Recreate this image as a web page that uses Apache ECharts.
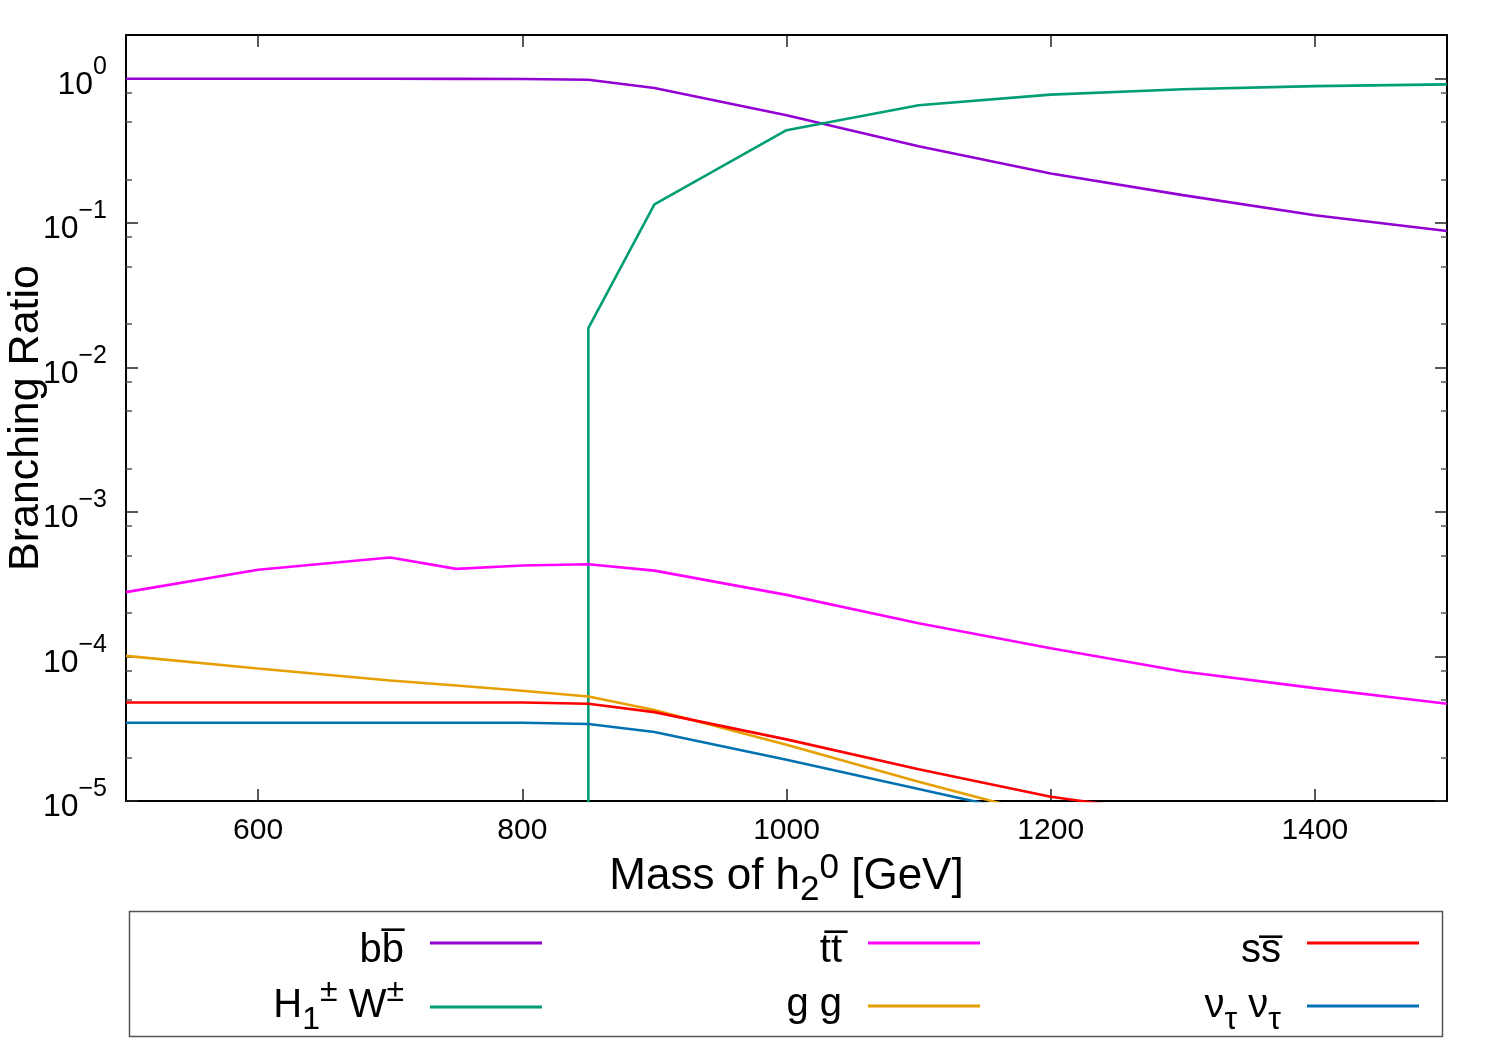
<!DOCTYPE html>
<html><head><meta charset="utf-8">
<script src="https://cdn.jsdelivr.net/npm/echarts@6/dist/echarts.min.js"></script>
<style>html,body{margin:0;padding:0;background:#fff}#c{width:1500px;height:1050px}</style>
</head><body><div id="c"></div>
<script>
// ---- data ----
const masses   = [500, 600, 700, 750, 800, 850, 900, 1000, 1100, 1200, 1300, 1400, 1500];
const brBB     = [0.995, 0.995, 0.995, 0.994, 0.993, 0.98, 0.86, 0.557, 0.34, 0.22, 0.156, 0.113, 0.088];
const brTT     = [2.79e-4, 3.98e-4, 4.84e-4, 4.04e-4, 4.26e-4, 4.35e-4, 3.93e-4, 2.67e-4, 1.70e-4, 1.14e-4, 7.87e-5, 6.04e-5, 4.71e-5];
const brGG     = [1.01e-4, 8.27e-5, 6.83e-5, 6.3e-5, 5.8e-5, 5.29e-5, 4.27e-5, 2.45e-5, 1.36e-5, 7.8e-6, null, null, null];
const brSS     = [4.81e-5, 4.81e-5, 4.81e-5, 4.81e-5, 4.81e-5, 4.71e-5, 4.12e-5, 2.67e-5, 1.66e-5, 1.07e-5, 8.0e-6, null, null];
const brNuNu   = [3.48e-5, 3.48e-5, 3.48e-5, 3.48e-5, 3.48e-5, 3.41e-5, 3.0e-5, 1.93e-5, 1.21e-5, 7.6e-6, null, null, null];
// H1± W± channel opens at 850 GeV (vertical rise from ~0)
const hwMasses = [850, 850, 900, 1000, 1100, 1200, 1300, 1400, 1500];
const brHW     = [1e-9, 0.0187, 0.1345, 0.439, 0.653, 0.773, 0.843, 0.885, 0.91];

const xTickValues  = [600, 800, 1000, 1200, 1400];
const yTickValues  = [1e-5, 1e-4, 1e-3, 1e-2, 1e-1, 1];
const yMinorValues = [2e-5, 5e-5, 8e-5, 2e-4, 5e-4, 8e-4, 2e-3, 5e-3, 8e-3, 2e-2, 5e-2, 8e-2, 0.2, 0.5, 0.8];

const seriesNames  = ['bb', 'hw', 'tt', 'gg', 'ss', 'nn'];
const seriesColors = ['#9400d3', '#009e73', '#ff00ff', '#e69f00', '#ff0000', '#0072b2'];
const legendText = {
  bb: '{b|b\u0062\u0305}',
  hw: '{b|H}{sub|1}{sup|\u00b1}{b| W}{sup|\u00b1}',
  tt: '{b|t\u0074\u0305}',
  gg: '{b|g g}',
  ss: '{b|s\u0073\u0305}',
  nn: '{b|\u03bd}{sub|\u03c4}{b| \u03bd}{sub|\u03c4}'
};

const FONT = "'Liberation Sans', Arial, Helvetica, sans-serif";
const pairs = (xs, ys) => xs.map((x, i) => [x, ys[i]]).filter(p => p[1] != null);
const seriesData = {
  bb: pairs(masses, brBB), hw: pairs(hwMasses, brHW), tt: pairs(masses, brTT),
  gg: pairs(masses, brGG), ss: pairs(masses, brSS), nn: pairs(masses, brNuNu)
};

function legendRich(shift) {
  return {
    b:   {fontSize: 40, lineHeight: 40, fontFamily: FONT, color: '#000', verticalAlign: 'top', padding: [10 + shift, 0, 10 - shift, 0]},
    sup: {fontSize: 32, lineHeight: 32, fontFamily: FONT, color: '#000', verticalAlign: 'top', padding: [0 + shift, 0, 0, 0]},
    sub: {fontSize: 32, lineHeight: 32, fontFamily: FONT, color: '#000', verticalAlign: 'top', padding: [28 + shift, 0, 0, 0]}
  };
}
// legend placement: [name, right, center of sample line, text shift]
const legendPos = [
  ['bb', 958, 943, 8], ['tt', 520, 943, 8], ['ss', 81, 943, 8],
  ['hw', 958, 1006, -1], ['gg', 520, 1006, -1], ['nn', 81, 1006, 0]
];
const legends = legendPos.map(([n, r, cy, sh]) => ({
  data: [n], right: r, top: cy - 30, padding: 0, align: 'right',
  icon: 'rect', itemWidth: 112, itemHeight: 3,
  formatter: () => legendText[n],
  textStyle: {fontSize: 40, fontFamily: FONT, color: '#000', padding: [0, 21, 20, 0], rich: legendRich(sh)}
}));

const supExp = v => {
  const e = Math.round(Math.log10(v));
  return '{b|10}{s|' + (e < 0 ? '\u2212' + (-e) : e) + '}';
};

const AXC = '#000';
const baseY = {
  type: 'log', logBase: 10, min: 1e-5, max: 2, gridIndex: 0,
  splitLine: {show: false}, minorTick: {show: false}
};

const chart = echarts.init(document.getElementById('c'));
chart.setOption({
  backgroundColor: '#fff',
  animation: false,
  grid: {left: 126, right: 53, top: 35, bottom: 249, containLabel: false, outerBoundsMode: 'none'},
  legend: legends,
  graphic: [{type: 'rect', shape: {x: 129.5, y: 911.5, width: 1313, height: 125}, style: {fill: 'none', stroke: '#555', lineWidth: 1.5}, silent: true}],
  xAxis: [
    {type: 'value', min: 500, max: 1500, position: 'bottom',
     axisLine: {show: true, onZero: false, lineStyle: {color: AXC, width: 2}},
     axisTick: {show: true, inside: true, length: 12, customValues: xTickValues, lineStyle: {color: '#222', width: 1.5}},
     axisLabel: {customValues: xTickValues, formatter: v => String(v), margin: 15, fontSize: 30, lineHeight: 30, fontFamily: FONT, color: '#000'},
     splitLine: {show: false},
     name: '{b|Mass of h}{sub|2}{sup|0}{b| [GeV]}', nameLocation: 'middle', nameGap: 50, nameMoveOverlap: false,
     nameTextStyle: {fontFamily: FONT, color: '#000', fontSize: 44, rich: {
       b:   {fontSize: 44, lineHeight: 44, fontFamily: FONT, color: '#000', verticalAlign: 'top', padding: [4, 0, 0, 0]},
       sub: {fontSize: 35, lineHeight: 35, fontFamily: FONT, color: '#000', verticalAlign: 'top', padding: [22, 0, 0, 0]},
       sup: {fontSize: 35, lineHeight: 35, fontFamily: FONT, color: '#000', verticalAlign: 'top', padding: [0, 0, 0, 0]}
     }}},
    {type: 'value', min: 500, max: 1500, position: 'top',
     axisLine: {show: true, onZero: false, lineStyle: {color: AXC, width: 2}},
     axisTick: {show: true, inside: true, length: 12, customValues: xTickValues, lineStyle: {color: '#222', width: 1.5}},
     axisLabel: {show: false}, splitLine: {show: false}}
  ],
  yAxis: [
    Object.assign({}, baseY, {position: 'left',
      axisLine: {show: true, onZero: false, lineStyle: {color: AXC, width: 2}},
      axisTick: {show: true, inside: true, length: 12, customValues: yTickValues, lineStyle: {color: '#222', width: 1.5}},
      axisLabel: {customValues: yTickValues, margin: 19, formatter: supExp, fontFamily: FONT, color: '#000', padding: [0, 0, 16, 0], rich: {
        b: {fontSize: 32, lineHeight: 32, fontFamily: FONT, color: '#000', verticalAlign: 'top', padding: [14.5, 0, 4, 0]},
        s: {fontSize: 25, lineHeight: 25, fontFamily: FONT, color: '#000', verticalAlign: 'top', padding: [0, 0, 0, 0]}
      }},
      name: 'Branching Ratio', nameLocation: 'middle', nameGap: 78, nameRotate: 90, nameMoveOverlap: false,
      nameTextStyle: {fontSize: 43, fontFamily: FONT, color: '#000'}}),
    Object.assign({}, baseY, {position: 'left',
      axisLine: {show: false},
      axisTick: {show: true, inside: true, length: 6, customValues: yMinorValues, lineStyle: {color: '#555', width: 1.5}},
      axisLabel: {show: false}}),
    Object.assign({}, baseY, {position: 'right',
      axisLine: {show: true, onZero: false, lineStyle: {color: AXC, width: 2}},
      axisTick: {show: true, inside: true, length: 12, customValues: yTickValues, lineStyle: {color: '#222', width: 1.5}},
      axisLabel: {show: false}}),
    Object.assign({}, baseY, {position: 'right',
      axisLine: {show: false},
      axisTick: {show: true, inside: true, length: 6, customValues: yMinorValues, lineStyle: {color: '#555', width: 1.5}},
      axisLabel: {show: false}})
  ],
  series: seriesNames.map((n, i) => ({
    name: n, type: 'line', xAxisIndex: 0, yAxisIndex: 0,
    data: seriesData[n], showSymbol: false, symbol: 'none', clip: true,
    color: seriesColors[i],
    lineStyle: {color: seriesColors[i], width: 2.6},
    emphasis: {disabled: true}
  }))
});
</script>
</body></html>
